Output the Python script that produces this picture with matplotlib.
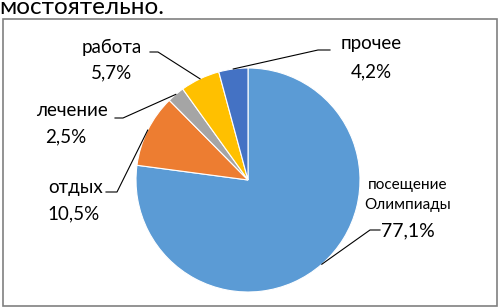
import numpy as np
import matplotlib.pyplot as plt
from matplotlib.patches import Rectangle

labels = ['посещение\nОлимпиады', 'отдых', 'лечение', 'работа', 'прочее']
shares = [77.1, 10.5, 2.5, 5.7, 4.2]
pct_text = ['77,1%', '10,5%', '2,5%', '5,7%', '4,2%']
colors = ['#5B9BD5', '#ED7D31', '#A5A5A5', '#FFC000', '#4472C4']

W, H = 499, 308
plt.rcParams['font.family'] = ['Lato', 'DejaVu Sans']

fig = plt.figure(figsize=(W / 100, H / 100), dpi=100)
ax = fig.add_axes([0, 0, 1, 1])

cx, cy, r = 248, H - 180, 112
wedges, _ = ax.pie(shares, colors=colors, startangle=90, counterclock=False,
                   center=(cx, cy), radius=r,
                   wedgeprops=dict(edgecolor='white', linewidth=0.8))
ax.set_xlim(0, W)
ax.set_ylim(0, H)
ax.set_aspect('equal')
ax.axis('off')

# frame around the chart
ax.add_patch(Rectangle((3, H - 306), 494, 287, fill=False,
                       edgecolor='#808080', linewidth=1.2))

# cropped text from the page above the chart
ax.text(-1, H - 14, 'мостоятельно.', fontsize=17.5, ha='left', va='baseline',
        color='black')

def py(y):
    return H - y

# label layout: (name pos, pct pos, leader elbow, leader end)
layout = {
    0: dict(name=(408, 195), pct=(408, 231), elbow=(370, 230), end=(380, 230)),
    1: dict(name=(76, 188), pct=(74, 214), elbow=(117, 192), end=(106, 192)),
    2: dict(name=(72, 110), pct=(66, 137), elbow=(123, 118), end=(115, 118)),
    3: dict(name=(112, 47), pct=(112, 73), elbow=(158, 52), end=(150, 52)),
    4: dict(name=(371, 44), pct=(371, 72), elbow=(318, 50), end=(330, 50)),
}

for i, w in enumerate(wedges):
    mid = np.deg2rad((w.theta1 + w.theta2) / 2)
    x0 = cx + r * np.cos(mid)
    y0 = cy + r * np.sin(mid)
    lay = layout[i]
    ax.plot([x0, lay['elbow'][0], lay['end'][0]],
            [y0, py(lay['elbow'][1]), py(lay['end'][1])],
            color='black', lw=0.8)
    if i == 0:
        ax.text(lay['name'][0], py(lay['name'][1]), labels[i], fontsize=11,
                ha='center', va='center', linespacing=1.6)
        ax.text(lay['pct'][0], py(lay['pct'][1]), pct_text[i], fontsize=14,
                ha='center', va='center')
    else:
        ax.text(lay['name'][0], py(lay['name'][1]), labels[i], fontsize=13.5,
                ha='center', va='center')
        ax.text(lay['pct'][0], py(lay['pct'][1]), pct_text[i], fontsize=13.5,
                ha='center', va='center')

fig.savefig('out.png', dpi=100)
